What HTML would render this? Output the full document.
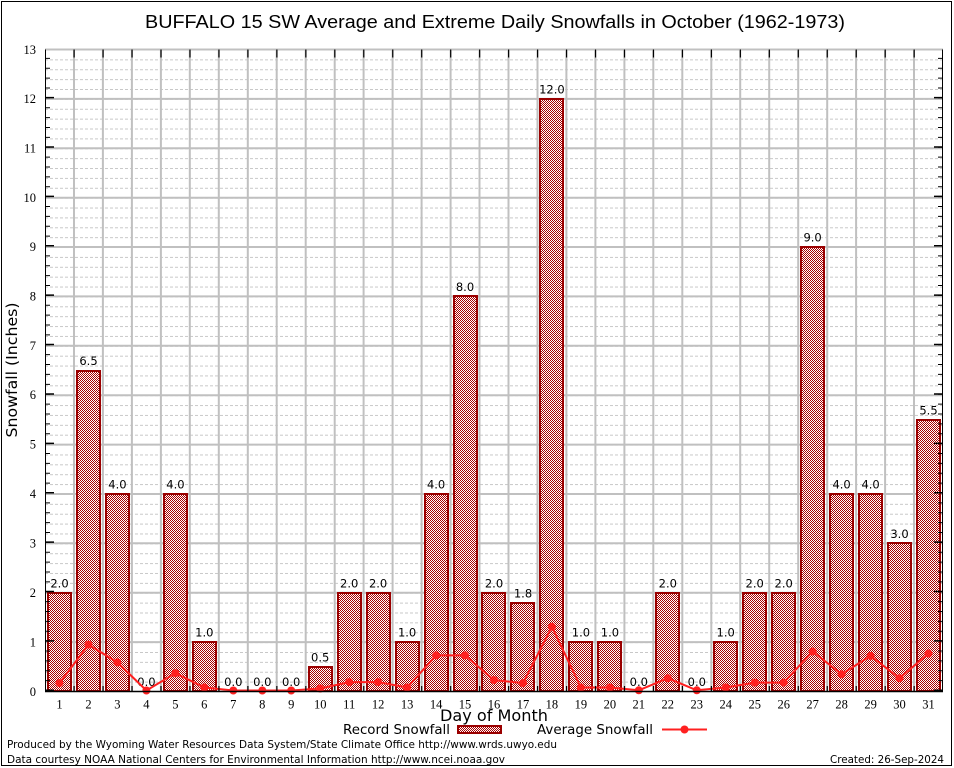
<!DOCTYPE html>
<html><head><meta charset="utf-8"><style>
html,body{margin:0;padding:0;background:#fff;}
svg{display:block;}
</style></head><body>
<svg width="954" height="768" viewBox="0 0 954 768" xmlns="http://www.w3.org/2000/svg">
<defs>
<pattern id="chk" patternUnits="userSpaceOnUse" x="0" y="0" width="2" height="2">
<rect x="0" y="0" width="2" height="2" fill="#ffffff"/>
<rect x="0" y="0" width="1" height="1" fill="#a80000"/>
<rect x="1" y="1" width="1" height="1" fill="#a80000"/>
</pattern>
<pattern id="minor" patternUnits="userSpaceOnUse" x="45" y="49.5" width="898" height="9.877">
<line x1="0" y1="0.5" x2="898" y2="0.5" stroke="#c8c8c8" stroke-width="1" stroke-dasharray="3 2"/>
</pattern>
</defs>
<rect x="0" y="0" width="954" height="768" fill="#fff"/>
<rect x="1.5" y="1.5" width="950" height="764" fill="none" stroke="#000" stroke-width="1"/>

<text x="495" y="28" text-anchor="middle" font-family="Liberation Sans, Arial, sans-serif" font-size="18.5" textLength="700" lengthAdjust="spacingAndGlyphs" fill="#000">BUFFALO 15 SW Average and Extreme Daily Snowfalls in October (1962-1973)</text>

<rect x="45" y="50" width="898" height="641" fill="url(#minor)"/>

<g stroke="#c0c0c0" stroke-width="2">
<line x1="45" y1="642.1" x2="943" y2="642.1"/>
<line x1="45" y1="592.7" x2="943" y2="592.7"/>
<line x1="45" y1="543.3" x2="943" y2="543.3"/>
<line x1="45" y1="494.0" x2="943" y2="494.0"/>
<line x1="45" y1="444.6" x2="943" y2="444.6"/>
<line x1="45" y1="395.2" x2="943" y2="395.2"/>
<line x1="45" y1="345.8" x2="943" y2="345.8"/>
<line x1="45" y1="296.4" x2="943" y2="296.4"/>
<line x1="45" y1="247.0" x2="943" y2="247.0"/>
<line x1="45" y1="197.7" x2="943" y2="197.7"/>
<line x1="45" y1="148.3" x2="943" y2="148.3"/>
<line x1="45" y1="98.9" x2="943" y2="98.9"/>
<line x1="45" y1="49.5" x2="943" y2="49.5"/>
</g>
<g stroke="#c0c0c0" stroke-width="2">
<line x1="74.0" y1="49.5" x2="74.0" y2="691.5"/>
<line x1="102.9" y1="49.5" x2="102.9" y2="691.5"/>
<line x1="131.9" y1="49.5" x2="131.9" y2="691.5"/>
<line x1="160.9" y1="49.5" x2="160.9" y2="691.5"/>
<line x1="189.8" y1="49.5" x2="189.8" y2="691.5"/>
<line x1="218.8" y1="49.5" x2="218.8" y2="691.5"/>
<line x1="247.8" y1="49.5" x2="247.8" y2="691.5"/>
<line x1="276.7" y1="49.5" x2="276.7" y2="691.5"/>
<line x1="305.7" y1="49.5" x2="305.7" y2="691.5"/>
<line x1="334.7" y1="49.5" x2="334.7" y2="691.5"/>
<line x1="363.6" y1="49.5" x2="363.6" y2="691.5"/>
<line x1="392.6" y1="49.5" x2="392.6" y2="691.5"/>
<line x1="421.6" y1="49.5" x2="421.6" y2="691.5"/>
<line x1="450.6" y1="49.5" x2="450.6" y2="691.5"/>
<line x1="479.5" y1="49.5" x2="479.5" y2="691.5"/>
<line x1="508.5" y1="49.5" x2="508.5" y2="691.5"/>
<line x1="537.5" y1="49.5" x2="537.5" y2="691.5"/>
<line x1="566.4" y1="49.5" x2="566.4" y2="691.5"/>
<line x1="595.4" y1="49.5" x2="595.4" y2="691.5"/>
<line x1="624.4" y1="49.5" x2="624.4" y2="691.5"/>
<line x1="653.3" y1="49.5" x2="653.3" y2="691.5"/>
<line x1="682.3" y1="49.5" x2="682.3" y2="691.5"/>
<line x1="711.3" y1="49.5" x2="711.3" y2="691.5"/>
<line x1="740.2" y1="49.5" x2="740.2" y2="691.5"/>
<line x1="769.2" y1="49.5" x2="769.2" y2="691.5"/>
<line x1="798.2" y1="49.5" x2="798.2" y2="691.5"/>
<line x1="827.2" y1="49.5" x2="827.2" y2="691.5"/>
<line x1="856.1" y1="49.5" x2="856.1" y2="691.5"/>
<line x1="885.1" y1="49.5" x2="885.1" y2="691.5"/>
<line x1="914.0" y1="49.5" x2="914.0" y2="691.5"/>
</g>

<g fill="url(#chk)" stroke="#9a0000" stroke-width="2">
<rect x="48" y="593" width="23" height="98"/>
<rect x="77" y="371" width="23" height="320"/>
<rect x="106" y="494" width="23" height="197"/>
<rect x="164" y="494" width="23" height="197"/>
<rect x="193" y="642" width="23" height="49"/>
<rect x="309" y="667" width="23" height="24"/>
<rect x="338" y="593" width="23" height="98"/>
<rect x="367" y="593" width="23" height="98"/>
<rect x="396" y="642" width="23" height="49"/>
<rect x="425" y="494" width="23" height="197"/>
<rect x="454" y="296" width="23" height="395"/>
<rect x="482" y="593" width="23" height="98"/>
<rect x="511" y="603" width="23" height="88"/>
<rect x="540" y="99" width="23" height="592"/>
<rect x="569" y="642" width="23" height="49"/>
<rect x="598" y="642" width="23" height="49"/>
<rect x="656" y="593" width="23" height="98"/>
<rect x="714" y="642" width="23" height="49"/>
<rect x="743" y="593" width="23" height="98"/>
<rect x="772" y="593" width="23" height="98"/>
<rect x="801" y="247" width="23" height="444"/>
<rect x="830" y="494" width="23" height="197"/>
<rect x="859" y="494" width="23" height="197"/>
<rect x="888" y="543" width="23" height="148"/>
<rect x="917" y="420" width="23" height="271"/>
</g>

<g font-family="DejaVu Sans, Liberation Sans, sans-serif" font-size="11.5" text-anchor="middle" fill="#000">
<text x="59.5" y="587.5">2.0</text>
<text x="88.5" y="365">6.5</text>
<text x="117.4" y="488.5">4.0</text>
<text x="146.4" y="686">0.0</text>
<text x="175.4" y="488.5">4.0</text>
<text x="204.3" y="636.5">1.0</text>
<text x="233.3" y="686">0.0</text>
<text x="262.3" y="686">0.0</text>
<text x="291.2" y="686">0.0</text>
<text x="320.2" y="661.5">0.5</text>
<text x="349.2" y="587.5">2.0</text>
<text x="378.1" y="587.5">2.0</text>
<text x="407.1" y="636.5">1.0</text>
<text x="436.1" y="488.5">4.0</text>
<text x="465.0" y="291">8.0</text>
<text x="494.0" y="587.5">2.0</text>
<text x="523.0" y="597.5">1.8</text>
<text x="551.9" y="93.5">12.0</text>
<text x="580.9" y="636.5">1.0</text>
<text x="609.9" y="636.5">1.0</text>
<text x="638.8" y="686">0.0</text>
<text x="667.8" y="587.5">2.0</text>
<text x="696.8" y="686">0.0</text>
<text x="725.7" y="636.5">1.0</text>
<text x="754.7" y="587.5">2.0</text>
<text x="783.7" y="587.5">2.0</text>
<text x="812.6" y="241.5">9.0</text>
<text x="841.6" y="488.5">4.0</text>
<text x="870.6" y="488.5">4.0</text>
<text x="899.5" y="538">3.0</text>
<text x="928.5" y="414.5">5.5</text>
</g>

<polyline fill="none" stroke="#ff2020" stroke-width="2" stroke-linejoin="round" points="59.5,683.1 88.5,644.6 117.4,662.4 146.4,690.5 175.4,673.2 204.3,687.5 233.3,690.5 262.3,690.5 291.2,690.5 320.2,688.5 349.2,682.1 378.1,682.1 407.1,687.5 436.1,655.4 465.0,655.4 494.0,680.1 523.0,683.1 551.9,626.8 580.9,687.5 609.9,687.5 638.8,690.3 667.8,678.2 696.8,690.3 725.7,687.5 754.7,682.6 783.7,682.6 812.6,651.5 841.6,674.2 870.6,655.9 899.5,678.2 928.5,653.5"/>
<g fill="#ff2020">
<circle cx="59.5" cy="683.1" r="4"/>
<circle cx="88.5" cy="644.6" r="4"/>
<circle cx="117.4" cy="662.4" r="4"/>
<circle cx="146.4" cy="690.5" r="4"/>
<circle cx="175.4" cy="673.2" r="4"/>
<circle cx="204.3" cy="687.5" r="4"/>
<circle cx="233.3" cy="690.5" r="4"/>
<circle cx="262.3" cy="690.5" r="4"/>
<circle cx="291.2" cy="690.5" r="4"/>
<circle cx="320.2" cy="688.5" r="4"/>
<circle cx="349.2" cy="682.1" r="4"/>
<circle cx="378.1" cy="682.1" r="4"/>
<circle cx="407.1" cy="687.5" r="4"/>
<circle cx="436.1" cy="655.4" r="4"/>
<circle cx="465.0" cy="655.4" r="4"/>
<circle cx="494.0" cy="680.1" r="4"/>
<circle cx="523.0" cy="683.1" r="4"/>
<circle cx="551.9" cy="626.8" r="4"/>
<circle cx="580.9" cy="687.5" r="4"/>
<circle cx="609.9" cy="687.5" r="4"/>
<circle cx="638.8" cy="690.3" r="4"/>
<circle cx="667.8" cy="678.2" r="4"/>
<circle cx="696.8" cy="690.3" r="4"/>
<circle cx="725.7" cy="687.5" r="4"/>
<circle cx="754.7" cy="682.6" r="4"/>
<circle cx="783.7" cy="682.6" r="4"/>
<circle cx="812.6" cy="651.5" r="4"/>
<circle cx="841.6" cy="674.2" r="4"/>
<circle cx="870.6" cy="655.9" r="4"/>
<circle cx="899.5" cy="678.2" r="4"/>
<circle cx="928.5" cy="653.5" r="4"/>
</g>

<line x1="45.5" y1="49.5" x2="45.5" y2="692" stroke="#000" stroke-width="1"/>
<line x1="942.5" y1="49.5" x2="942.5" y2="692" stroke="#000" stroke-width="1"/>
<line x1="45" y1="691.5" x2="943" y2="691.5" stroke="#000" stroke-width="1.5"/>

<line x1="48" y1="691" x2="48" y2="49" stroke="#000" stroke-width="4" stroke-dasharray="1 8.877"/>
<line x1="50" y1="691" x2="50" y2="49" stroke="#000" stroke-width="8" stroke-dasharray="1.5 47.885"/>
<line x1="940" y1="691" x2="940" y2="49" stroke="#000" stroke-width="4" stroke-dasharray="1 8.877"/>
<line x1="938" y1="691" x2="938" y2="49" stroke="#000" stroke-width="8" stroke-dasharray="1.5 47.885"/>
<line x1="73.5" y1="688.5" x2="943" y2="688.5" stroke="#000" stroke-width="5" stroke-dasharray="1.2 27.768"/>
<line x1="73.5" y1="53.5" x2="943" y2="53.5" stroke="#000" stroke-width="8" stroke-dasharray="1.2 27.768"/>

<g font-family="Liberation Serif, DejaVu Serif, serif" font-size="12.5" text-anchor="end" fill="#000">
<text x="36" y="696">0</text>
<text x="36" y="646.5">1</text>
<text x="36" y="597">2</text>
<text x="36" y="547.5">3</text>
<text x="36" y="498">4</text>
<text x="36" y="448.5">5</text>
<text x="36" y="399">6</text>
<text x="36" y="350">7</text>
<text x="36" y="300.5">8</text>
<text x="36" y="251">9</text>
<text x="36" y="202">10</text>
<text x="36" y="152.5">11</text>
<text x="36" y="103">12</text>
<text x="36" y="54">13</text>
</g>

<g font-family="Liberation Serif, DejaVu Serif, serif" font-size="12.5" text-anchor="middle" fill="#000">
<text x="59.5" y="708.5">1</text>
<text x="88.5" y="708.5">2</text>
<text x="117.4" y="708.5">3</text>
<text x="146.4" y="708.5">4</text>
<text x="175.4" y="708.5">5</text>
<text x="204.3" y="708.5">6</text>
<text x="233.3" y="708.5">7</text>
<text x="262.3" y="708.5">8</text>
<text x="291.2" y="708.5">9</text>
<text x="320.2" y="708.5">10</text>
<text x="349.2" y="708.5">11</text>
<text x="378.1" y="708.5">12</text>
<text x="407.1" y="708.5">13</text>
<text x="436.1" y="708.5">14</text>
<text x="465.0" y="708.5">15</text>
<text x="494.0" y="708.5">16</text>
<text x="523.0" y="708.5">17</text>
<text x="551.9" y="708.5">18</text>
<text x="580.9" y="708.5">19</text>
<text x="609.9" y="708.5">20</text>
<text x="638.8" y="708.5">21</text>
<text x="667.8" y="708.5">22</text>
<text x="696.8" y="708.5">23</text>
<text x="725.7" y="708.5">24</text>
<text x="754.7" y="708.5">25</text>
<text x="783.7" y="708.5">26</text>
<text x="812.6" y="708.5">27</text>
<text x="841.6" y="708.5">28</text>
<text x="870.6" y="708.5">29</text>
<text x="899.5" y="708.5">30</text>
<text x="928.5" y="708.5">31</text>
</g>

<text x="494" y="721" text-anchor="middle" font-family="DejaVu Sans, Liberation Sans, sans-serif" font-size="16" textLength="108" lengthAdjust="spacingAndGlyphs" fill="#000">Day of Month</text>
<text transform="translate(17,370) rotate(-90)" x="0" y="0" text-anchor="middle" font-family="DejaVu Sans, Liberation Sans, sans-serif" font-size="15.5" textLength="135" lengthAdjust="spacingAndGlyphs" fill="#000">Snowfall (Inches)</text>

<text x="343" y="734" font-family="DejaVu Sans, Liberation Sans, sans-serif" font-size="13.5" textLength="107" lengthAdjust="spacingAndGlyphs" fill="#000">Record Snowfall</text>
<rect x="458" y="726" width="43" height="7" fill="url(#chk)" stroke="#9a0000" stroke-width="2"/>
<text x="537" y="734" font-family="DejaVu Sans, Liberation Sans, sans-serif" font-size="13.5" textLength="116" lengthAdjust="spacingAndGlyphs" fill="#000">Average Snowfall</text>
<line x1="662" y1="729.5" x2="707" y2="729.5" stroke="#ff2020" stroke-width="2"/>
<circle cx="684.5" cy="729.5" r="4" fill="#ff2020"/>

<g font-family="DejaVu Sans, Liberation Sans, sans-serif" font-size="11" fill="#000">
<text x="7" y="748" textLength="550" lengthAdjust="spacingAndGlyphs">Produced by the Wyoming Water Resources Data System/State Climate Office http://www.wrds.uwyo.edu</text>
<text x="7" y="763" textLength="498" lengthAdjust="spacingAndGlyphs">Data courtesy NOAA National Centers for Environmental Information http://www.ncei.noaa.gov</text>
<text x="944" y="763" text-anchor="end" textLength="114" lengthAdjust="spacingAndGlyphs">Created: 26-Sep-2024</text>
</g>
</svg>
</body></html>
